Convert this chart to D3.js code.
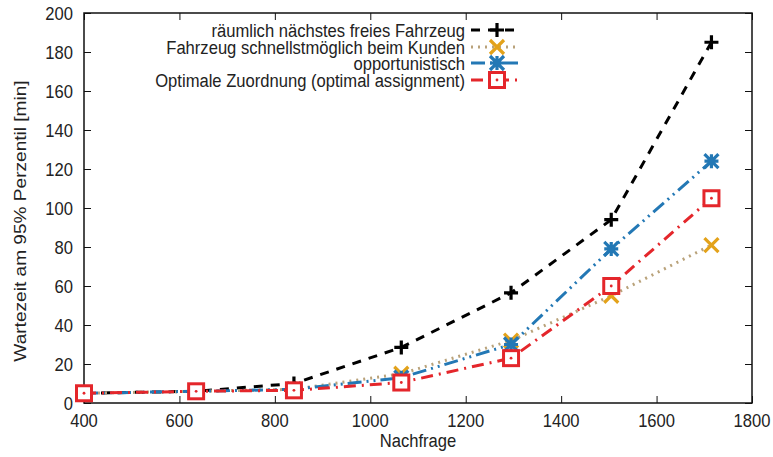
<!DOCTYPE html>
<html>
<head>
<meta charset="utf-8">
<script src="https://cdn.jsdelivr.net/npm/d3@7"></script>
<style>
  body { margin: 0; background: #fff; }
  text { font-family: "Liberation Sans", Arial, sans-serif; fill: #222; }
</style>
</head>
<body>
<script>
// demand levels (x) and 95th percentile waiting time per strategy
let demand = [400, 635, 840, 1065, 1295, 1505, 1715];
let naechstes = [5, 6, 10, 28.5, 56.5, 94, 185];
let schnellst = [5, 6, 7, 15, 32, 55, 81];
let opportun = [5, 6, 7, 13, 30, 79, 124];
let optimal = [5, 6, 6.5, 10.5, 23, 60, 105];

let seriesNames = [
  "räumlich nächstes freies Fahrzeug",
  "Fahrzeug schnellstmöglich beim Kunden",
  "opportunistisch",
  "Optimale Zuordnung (optimal assignment)"
];
let xTicks = [400, 600, 800, 1000, 1200, 1400, 1600, 1800];
let yTicks = [0, 20, 40, 60, 80, 100, 120, 140, 160, 180, 200];

let W = 773, H = 457;
let margin = {top: 13, right: 21, bottom: 54, left: 84},
    width = W - margin.left - margin.right,
    height = H - margin.top - margin.bottom;

let fontSize = 16.6, stretch = 1.15;   // the source figure is a bit taller than wide

let svg = d3.select("body").append("svg")
    .attr("width", W).attr("height", H);

let g = svg.append("g")
    .attr("transform", `translate(${margin.left}, ${margin.top})`);

let x = d3.scaleLinear().domain([400, 1800]).range([0, width]);
let y = d3.scaleLinear().domain([0, 200]).range([height, 0]);

// text placed at (tx, ty), centred vertically, stretched like the source
function label(sel, tx, ty, str, anchor, rot) {
  return sel.append("text")
      .attr("transform", `translate(${tx}, ${ty}) rotate(${rot || 0}) scale(${rot ? stretch : 1}, ${rot ? 1 : stretch})`)
      .attr("text-anchor", anchor)
      .attr("dy", "0.35em")
      .style("font-size", fontSize + "px")
      .text(str);
}

// axes with inward ticks, mirrored on top/right like gnuplot
let tick = 7;
g.append("g")
    .attr("transform", `translate(0, ${height})`)
    .call(d3.axisBottom(x).tickValues(xTicks).tickSize(-tick).tickFormat(""))
    .call(a => a.select(".domain").remove());
g.append("g")
    .call(d3.axisTop(x).tickValues(xTicks).tickSize(-tick).tickFormat(""))
    .call(a => a.select(".domain").remove());
g.append("g")
    .call(d3.axisLeft(y).tickValues(yTicks).tickSize(-tick).tickFormat(""))
    .call(a => a.select(".domain").remove());
g.append("g")
    .attr("transform", `translate(${width}, 0)`)
    .call(d3.axisRight(y).tickValues(yTicks).tickSize(-tick).tickFormat(""))
    .call(a => a.select(".domain").remove());

g.selectAll(".tick line").attr("stroke", "#111").attr("stroke-width", 1);

xTicks.forEach(t => label(g, x(t), height + 17, d3.format("d")(t), "middle"));
yTicks.forEach(t => label(g, -11, y(t), t, "end"));

g.append("rect")
    .attr("width", width).attr("height", height)
    .attr("fill", "none").attr("stroke", "#111").attr("stroke-width", 1.5);

// axis titles
label(svg, margin.left + width / 2, 440, "Nachfrage", "middle");
label(svg, 20, 221, "Wartezeit am 95% Perzentil [min]", "middle", -90);

let series = [
  {name: seriesNames[0], values: naechstes, line: "#000", mark: "#000", dash: "9,8", shape: "plus"},
  {name: seriesNames[1], values: schnellst, line: "#b9a27a", mark: "#e3a21a", dash: "2,5", shape: "cross"},
  {name: seriesNames[2], values: opportun, line: "#2378b5", mark: "#2378b5", dash: "14,5,2,5,2,5", shape: "star"},
  {name: seriesNames[3], values: optimal, line: "#e4262b", mark: "#e4262b", dash: "12,6,2,6", shape: "square"}
];

let lineMaker = d3.line()
    .x((d, i) => x(demand[i]))
    .y(d => y(d));

function drawMarker(sel, s, cx, cy) {
  let r = 7;
  let m = sel.append("g").attr("transform", `translate(${cx}, ${cy})`)
      .attr("stroke", s.mark).attr("fill", "none");
  if (s.shape === "plus") {
    m.append("path").attr("d", `M${-r},0H${r}M0,${-r}V${r}`).attr("stroke-width", 3.2);
  } else if (s.shape === "cross") {
    m.append("path").attr("d", `M${-r},${-r}L${r},${r}M${-r},${r}L${r},${-r}`).attr("stroke-width", 3.2);
  } else if (s.shape === "star") {
    m.append("path").attr("d", `M${-r},0H${r}M0,${-r}V${r}M${-r},${-r}L${r},${r}M${-r},${r}L${r},${-r}`).attr("stroke-width", 3.2);
  } else {
    m.append("rect").attr("x", -7.5).attr("y", -7.5).attr("width", 15).attr("height", 15)
        .attr("stroke-width", 3).attr("fill", "#fff");
    m.append("circle").attr("r", 1.4).attr("fill", s.mark).attr("stroke", "none");
  }
}

let plot = g.append("g");
series.forEach(s => {
  plot.append("path")
      .datum(s.values)
      .attr("d", lineMaker)
      .attr("fill", "none")
      .attr("stroke", s.line)
      .attr("stroke-width", 3)
      .attr("stroke-dasharray", s.dash);
  s.values.forEach((v, i) => drawMarker(plot, s, x(demand[i]), y(v)));
});

// legend
let legendY = [30, 47, 63, 80];
let legend = svg.append("g");
series.forEach((s, i) => {
  let ly = legendY[i];
  label(legend, 465, ly, s.name, "end");
  legend.append("line")
      .attr("x1", 471).attr("x2", 518).attr("y1", ly).attr("y2", ly)
      .attr("stroke", s.line).attr("stroke-width", 3)
      .attr("stroke-dasharray", s.dash);
  drawMarker(legend, s, 497, ly);
});
</script>
</body>
</html>
